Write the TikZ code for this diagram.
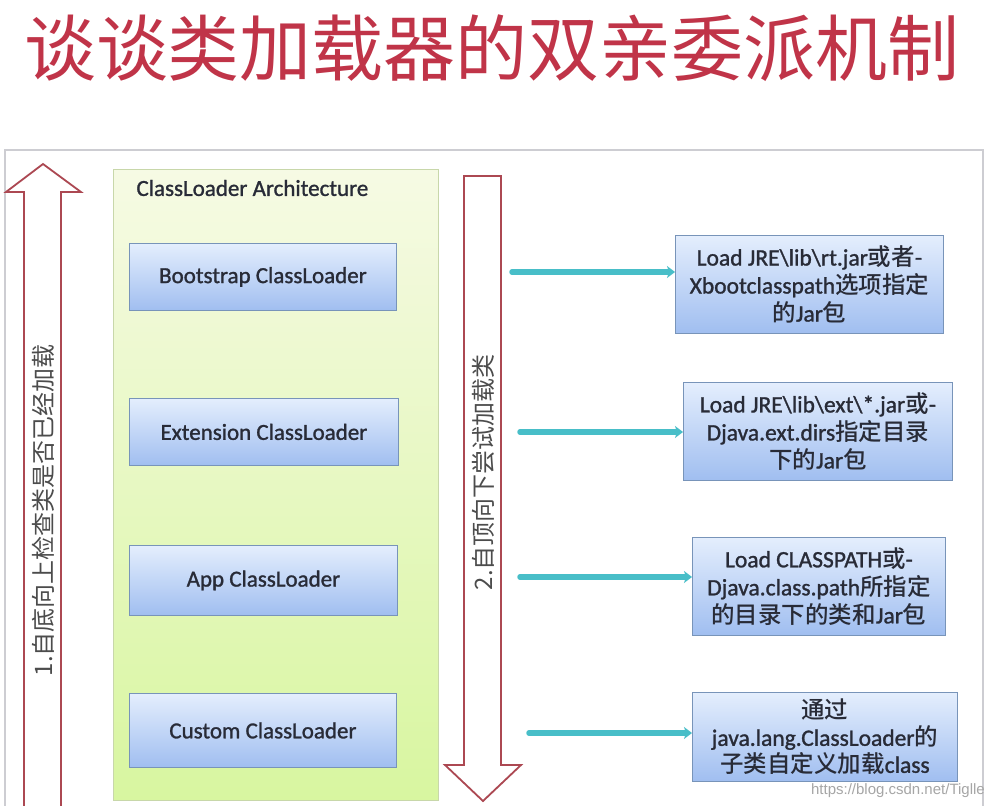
\documentclass[tikz,border=0pt]{standalone}
\usepackage{fontspec}
\setmainfont{Carlito}[FakeBold=1.2]
\newfontfamily\cjk{Noto Sans CJK SC}
\newfontfamily\cjkm{Noto Sans CJK SC Medium}
\newfontfamily\wmfont{Liberation Sans}
\usetikzlibrary{arrows.meta}
\definecolor{titlered}{RGB}{192,52,72}
\definecolor{arrowred}{RGB}{172,72,82}
\definecolor{panelborder}{RGB}{200,215,170}
\definecolor{paneltop}{RGB}{246,250,228}
\definecolor{panelbot}{RGB}{216,246,160}
\definecolor{bluetop}{RGB}{228,238,253}
\definecolor{bluebot}{RGB}{160,190,240}
\definecolor{blueborder}{RGB}{120,148,185}
\definecolor{textgray}{RGB}{40,43,55}
\definecolor{tealarrow}{RGB}{72,190,200}
\definecolor{framegray}{RGB}{205,205,210}
\tikzset{
  loaderbox/.style={draw=blueborder, line width=0.9pt, top color=bluetop, bottom color=bluebot,
    text=textgray, font=\fontsize{23}{26}\selectfont, inner sep=0pt, anchor=north west},
  infobox/.style={draw=blueborder, line width=0.9pt, top color=bluetop, bottom color=bluebot,
    text=textgray, font=\fontsize{23.5}{28}\selectfont, align=center, inner sep=0pt, anchor=north west},
  hollowarrow/.style={draw=arrowred, line width=1.8pt, fill=white, line join=miter},
  tealconn/.style={draw=tealarrow, line width=5.5pt, line cap=round,
    -{Stealth[length=8pt,width=12pt,inset=2pt]}},
  arrowtext/.style={rotate=90, text=black!70, font=\cjk\fontsize{24}{26}\selectfont}
}
\begin{document}
\begin{tikzpicture}[x=1pt,y=-1pt]
\useasboundingbox (0,0) rectangle (989,806);
\fill[white] (0,0) rectangle (989,806);

% title
\node[text=titlered, font=\cjk\fontsize{72}{74}\selectfont, anchor=center] (title) at (492,48) {谈谈类加载器的双亲委派机制};

% slide frame
\draw[framegray, line width=1.2pt] (5,812) -- (5,150) -- (983,150) -- (983,812);

% left hollow arrow (up)
\draw[hollowarrow] (24,812) -- (24,192) -- (6,192) -- (43,164) -- (81,192) -- (61,192) -- (61,812);
\node[arrowtext] (uptext) at (43,510) {1.自底向上检查类是否已经加载};

% panel
\draw[draw=panelborder, line width=1pt, top color=paneltop, bottom color=panelbot] (113,169) rectangle (438,800);
\node[anchor=west, text=textgray, font=\fontsize{23}{26}\selectfont] (paneltitle) at (133,188) {ClassLoader Architecture};

% loaders
\node[loaderbox, minimum width=267pt, minimum height=67pt] (boot) at (129,243) {Bootstrap ClassLoader};
\node[loaderbox, minimum width=269pt, minimum height=67pt] (ext) at (129,398) {Extension ClassLoader};
\node[loaderbox, minimum width=268pt, minimum height=70pt] (app) at (129,545) {App ClassLoader};
\node[loaderbox, minimum width=267pt, minimum height=74pt] (custom) at (129,693) {Custom ClassLoader};

% down hollow arrow
\draw[hollowarrow] (464,176) -- (501,176) -- (501,765) -- (521,765) -- (483,801) -- (445,765) -- (464,765) -- cycle;
\node[arrowtext] (downtext) at (483,472) {2.自顶向下尝试加载类};

% info boxes
\node[infobox, minimum width=268pt, minimum height=98pt] (info1) at (675,235)
  {Load JRE\textbackslash lib\textbackslash rt.jar{\cjkm 或者}-\\Xbootclasspath{\cjkm 选项指定}\\{\cjkm 的}Jar{\cjkm 包}};
\node[infobox, minimum width=269pt, minimum height=98pt] (info2) at (683,382)
  {Load JRE\textbackslash lib\textbackslash ext\textbackslash *.jar{\cjkm 或}-\\Djava.ext.dirs{\cjkm 指定目录}\\{\cjkm 下的}Jar{\cjkm 包}};
\node[infobox, minimum width=253pt, minimum height=98pt] (info3) at (692,537)
  {Load CLASSPATH{\cjkm 或}-\\Djava.class.path{\cjkm 所指定}\\{\cjkm 的目录下的类和}Jar{\cjkm 包}};
\node[infobox, minimum width=265pt, minimum height=89pt, font=\fontsize{23.5}{27}\selectfont] (info4) at (692,692)
  {{\cjkm 通过}\\java.lang.ClassLoader{\cjkm 的}\\{\cjkm 子类自定义加载}class};

% teal connectors
\coordinate (s1) at (512,272);
\coordinate (s2) at (520,432);
\coordinate (s3) at (520,577);
\coordinate (s4) at (529,733);
\draw[tealconn] (s1) -- (info1.west |- s1);
\draw[tealconn] (s2) -- (info2.west |- s2);
\draw[tealconn] (s3) -- (info3.west |- s3);
\draw[tealconn] (s4) -- (info4.west |- s4);

% watermark
\node[anchor=east, text=black!35, font=\wmfont\fontsize{15}{17}\selectfont, inner sep=1pt] (wm) at (986,791) {https://blog.csdn.net/Tiglle};
\end{tikzpicture}
\end{document}
